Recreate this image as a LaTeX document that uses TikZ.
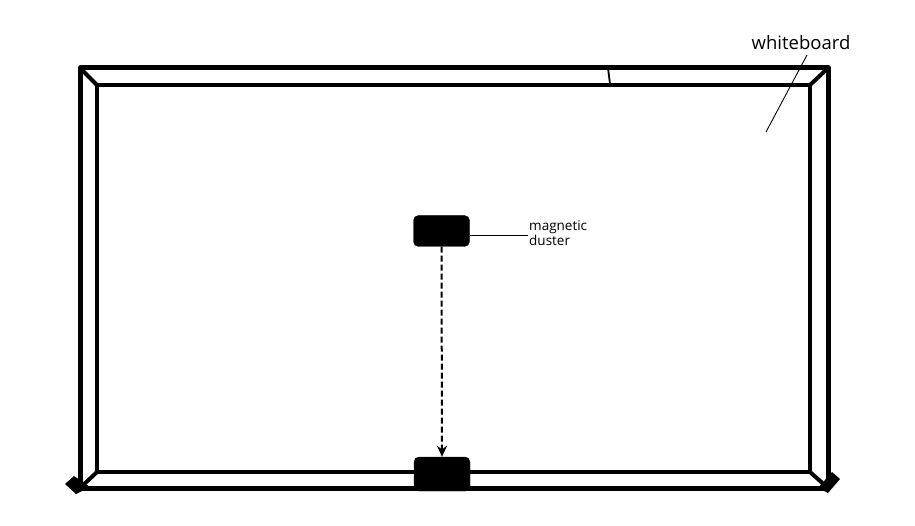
\documentclass[tikz,border=0pt]{standalone}
\usepackage{fontspec}
\setmainfont{Open Sans}
\usetikzlibrary{arrows.meta}
\begin{document}
\begin{tikzpicture}[x=1pt,y=-1pt,
  frame/.style={line width=5pt,line join=round,line cap=round},
  thin/.style={line width=4pt,line join=round},
  duster/.style={fill=black,draw=black,rounded corners=5pt},
  lead/.style={line width=0.9pt},
  lbl/.style={font=\fontsize{13.5}{12}\selectfont,align=left,inner sep=0pt,anchor=west}]
\useasboundingbox (0,0) rectangle (915,526);
% outer and inner frame
\draw[frame] (80,68) rectangle (828,488);
\draw[thin] (97,85) rectangle (810,472);
\draw[thin] (80,68) -- (97,85);
\draw[thin] (828,68) -- (810,85);
\draw[thin] (80,488) -- (97,472);
\draw[thin] (828,488) -- (810,472);
\draw[line width=1.8pt] (608,68) -- (610,84);
% feet
\fill (65,484) -- (74,476) -- (90,487) -- (76,494) -- cycle;
\fill (818,488) -- (832,472) -- (840,479) -- (828,493) -- cycle;
% dusters
\node[duster,minimum width=56pt,minimum height=31pt,inner sep=0pt] (d1) at (441.5,231) {};
\node[duster,minimum width=56pt,minimum height=34pt,inner sep=0pt] (d2) at (442,474) {};
\coordinate (lt) at (528,235);
\draw[lead] (d1.east |- lt) -- (lt);
\node[lbl] (t1) at (529,233) {magnetic\\duster};
\draw[line width=2pt,dash pattern=on 6pt off 3pt,-{Stealth[length=11pt,width=10pt]}] (d1.south) -- (d2.north);
% whiteboard label
\node[font=\fontsize{18.5}{18.5}\selectfont,inner sep=0pt] (wb) at (801,43) {whiteboard};
\coordinate (wl) at (766,132);
\draw[lead] (wl) -- (807,55);
\end{tikzpicture}
\end{document}
